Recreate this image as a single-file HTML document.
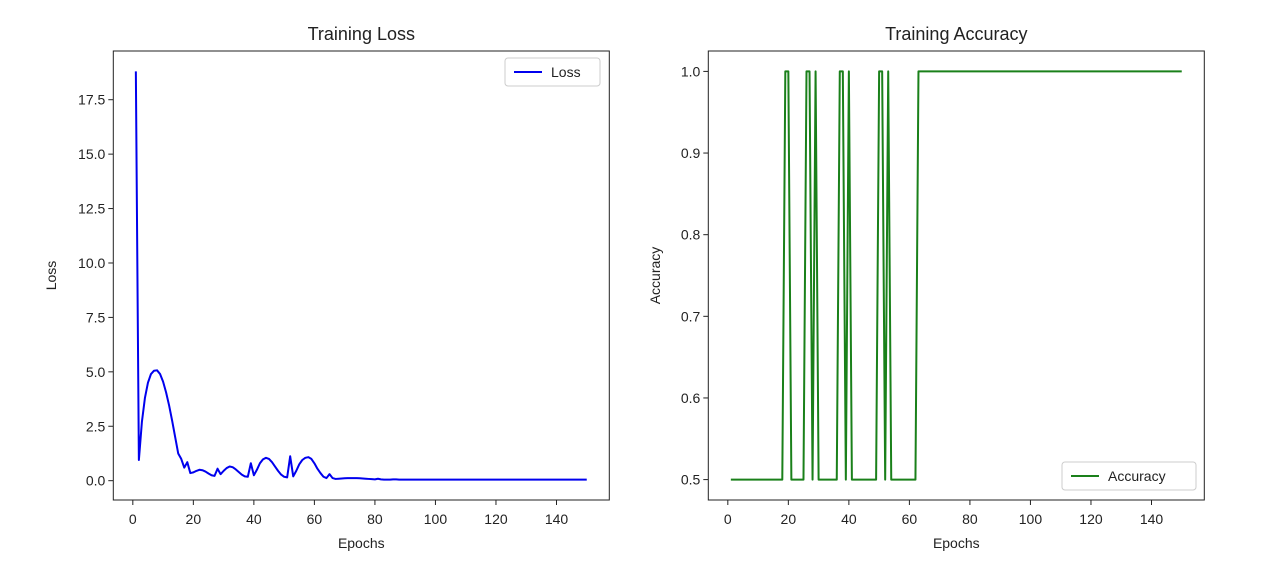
<!DOCTYPE html>
<html><head><meta charset="utf-8"><style>
body{margin:0;background:#fff;}
svg text{font-family:"Liberation Sans","DejaVu Sans",sans-serif;fill:#222;}
</style></head><body>
<svg id="c" width="1280" height="560" xmlns="http://www.w3.org/2000/svg"></svg>
<script>
const lossValues=[18.8,0.95,2.7,3.8,4.5,4.9,5.05,5.07,4.9,4.55,4.05,3.45,2.75,2.0,1.25,1.0,0.6,0.85,0.35,0.38,0.45,0.5,0.48,0.42,0.33,0.25,0.22,0.55,0.3,0.45,0.58,0.65,0.62,0.52,0.4,0.28,0.2,0.18,0.8,0.25,0.5,0.8,0.98,1.05,1.0,0.85,0.65,0.45,0.28,0.18,0.15,1.12,0.2,0.45,0.75,0.95,1.05,1.08,1.0,0.8,0.55,0.35,0.18,0.12,0.3,0.12,0.08,0.09,0.1,0.11,0.12,0.12,0.12,0.12,0.11,0.1,0.09,0.08,0.07,0.06,0.09,0.06,0.05,0.05,0.05,0.06,0.06,0.05,0.05,0.05,0.05,0.05,0.05,0.05,0.05,0.05,0.05,0.05,0.05,0.05,0.05,0.05,0.05,0.05,0.05,0.05,0.05,0.05,0.05,0.05,0.05,0.05,0.05,0.05,0.05,0.05,0.05,0.05,0.05,0.05,0.05,0.05,0.05,0.05,0.05,0.05,0.05,0.05,0.05,0.05,0.05,0.05,0.05,0.05,0.05,0.05,0.05,0.05,0.05,0.05,0.05,0.05,0.05,0.05,0.05,0.05,0.05,0.05,0.05,0.05];
const accOnes=[19,20,26,27,29,37,38,40,50,51,53];
const accPlateauStart=63;
const epochCount=150;
const xTicks=[0,20,40,60,80,100,120,140];
const lossTicks=[0,2.5,5,7.5,10,12.5,15,17.5];
const lossTickLabels=["0.0","2.5","5.0","7.5","10.0","12.5","15.0","17.5"];
const accTicks=[0.5,0.6,0.7,0.8,0.9,1.0];
const accTickLabels=["0.5","0.6","0.7","0.8","0.9","1.0"];

const NS="http://www.w3.org/2000/svg";
const svg=document.getElementById('c');
function mk(tag,attrs,parent,text){const e=document.createElementNS(NS,tag);for(const k in attrs)e.setAttribute(k,attrs[k]);if(text!==undefined)e.textContent=text;(parent||svg).appendChild(e);return e;}

const accValues=[];
for(let e=1;e<=epochCount;e++){accValues.push(e>=accPlateauStart||accOnes.includes(e)?1.0:0.5);}

function panel(cfg){
  const L=cfg.left,R=cfg.left+496,T=51,B=500;
  const x0=-6.45,x1=157.45;
  const xs=v=>L+(v-x0)/(x1-x0)*(R-L);
  const vals=cfg.values;
  const mn=Math.min(...vals),mx=Math.max(...vals),m=(mx-mn)*0.05;
  const y0=mn-m,y1=mx+m;
  const ys=v=>B-(v-y0)/(y1-y0)*(B-T);
  const g=mk('g',{});
  
  
  const t=mk('text',{x:(L+R)/2,y:40,'text-anchor':'middle','font-size':'18'},g,cfg.title);
  
  xTicks.forEach(v=>{
    const x=xs(v);
    mk('line',{x1:x,x2:x,y1:B,y2:B+5,stroke:'#222','stroke-width':1},g);
    const tl=mk('text',{x:x,y:B+24,'text-anchor':'middle','font-size':'14'},g,String(v));
    
  });
  cfg.ticks.forEach((v,i)=>{
    const y=ys(v);
    mk('line',{x1:L-5,x2:L,y1:y,y2:y,stroke:'#222','stroke-width':1},g);
    const tl=mk('text',{x:L-8,y:y+5,'text-anchor':'end','font-size':'14'},g,cfg.tickLabels[i]);
    
  });
  const xl=mk('text',{x:(L+R)/2,y:B+48,'text-anchor':'middle','font-size':'14'},g,'Epochs');
  
  const yx=cfg.ylabelX,yy=(T+B)/2;
  const yl=mk('text',{x:yx,y:yy,'text-anchor':'middle','font-size':'14',transform:`rotate(-90 ${yx} ${yy})`},g,cfg.ylabel);
  
  const pts=vals.map((v,i)=>xs(i+1).toFixed(2)+','+ys(v).toFixed(2)).join(' ');
  const pl=mk('polyline',{points:pts,fill:'none',stroke:cfg.color,'stroke-width':2,'stroke-linejoin':'round'},g);
  
  const fr=mk('rect',{x:L,y:T,width:R-L,height:B-T,fill:'none',stroke:'#222','stroke-width':1},g);
  
  const lg=mk('g',{},g);
  
  const lb=cfg.legendBox;
  mk('rect',{x:lb[0],y:lb[1],width:lb[2],height:28,rx:3,fill:'#fff',stroke:'#ccc','stroke-width':1},lg);
  mk('line',{x1:lb[0]+9,x2:lb[0]+37,y1:lb[1]+14,y2:lb[1]+14,stroke:cfg.color,'stroke-width':2},lg);
  mk('text',{x:lb[0]+46,y:lb[1]+19,'font-size':'14'},lg,cfg.legend);
}
panel({name:'loss-chart',left:113.3,title:'Training Loss',values:lossValues,ticks:lossTicks,tickLabels:lossTickLabels,ylabel:'Loss',ylabelX:56,color:'#0000ee',seriesName:'loss-line',legend:'Loss',legendBox:[505,58,95]});
panel({name:'accuracy-chart',left:708.3,title:'Training Accuracy',values:accValues,ticks:accTicks,tickLabels:accTickLabels,ylabel:'Accuracy',ylabelX:660,color:'#1a801a',seriesName:'accuracy-line',legend:'Accuracy',legendBox:[1062,462,134]});
</script>
</body></html>
